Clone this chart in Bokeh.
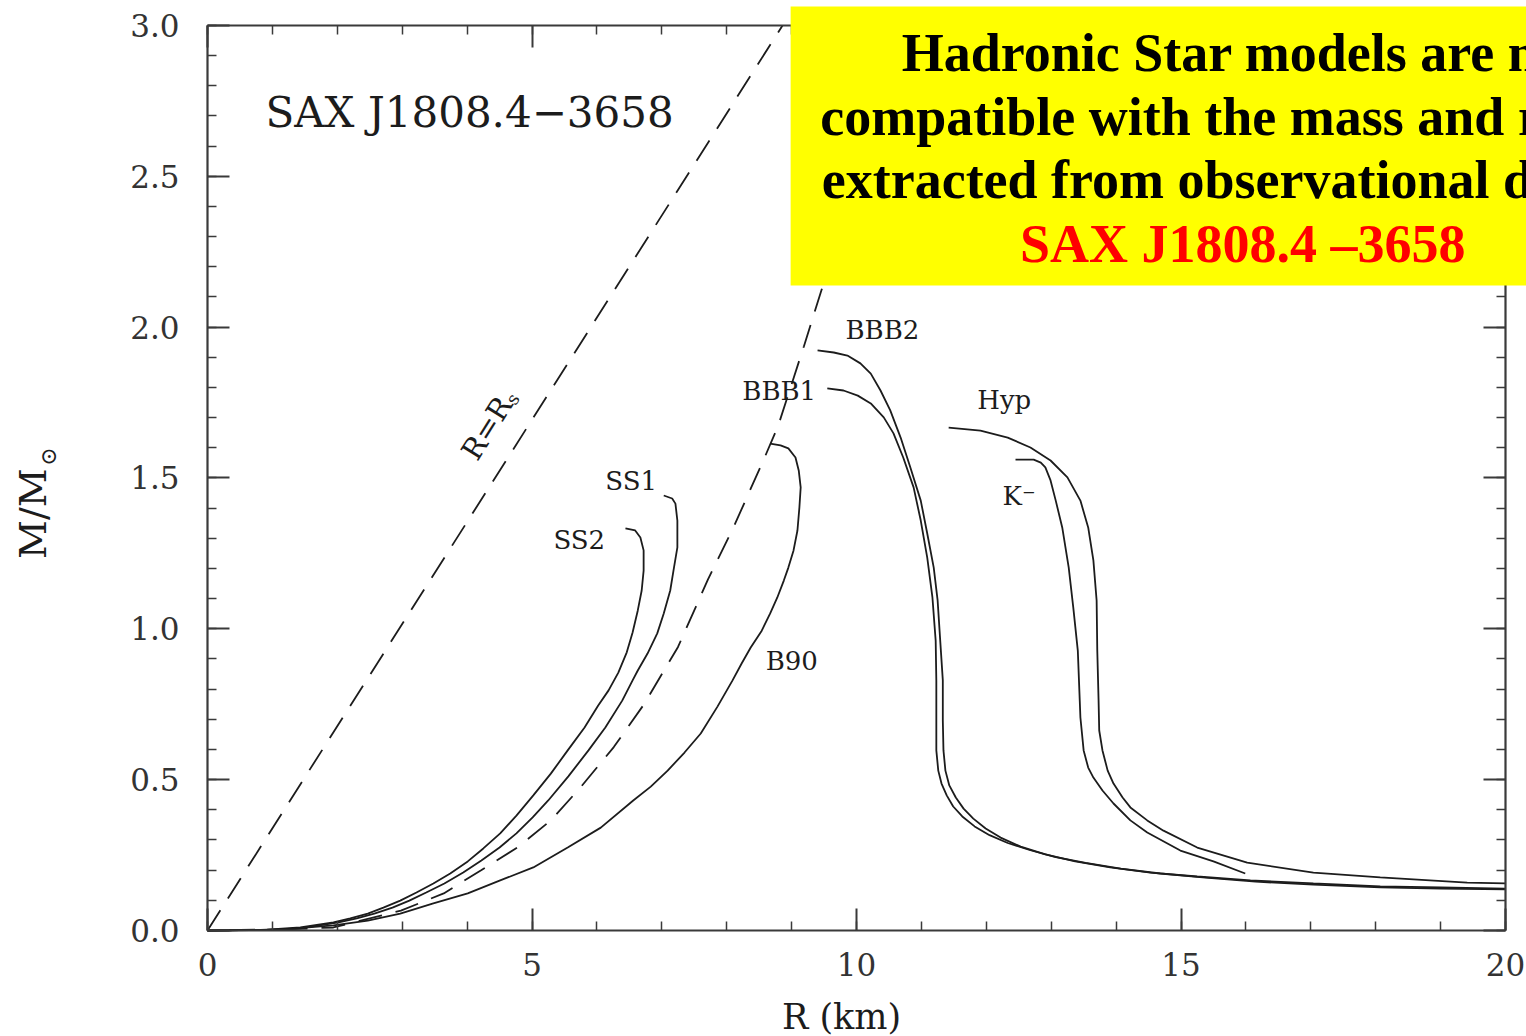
import math
from bokeh.plotting import figure
from bokeh.models import (Range1d, LinearAxis, Label, BoxAnnotation, FixedTicker,
                          NumeralTickFormatter, CustomJSTickFormatter)
from bokeh.embed import file_html
from bokeh.resources import INLINE

# ---------------- data ----------------
rs_R = [0.0, 8.86]
rs_M = [0.0, 3.0]

limit_R = [0.0, 1.0, 1.94, 2.98, 3.64, 4.21, 4.78, 5.29, 5.75, 6.26, 6.72, 7.25, 7.71, 8.11, 8.57, 8.79, 9.19, 9.45, 10.4]
limit_M = [0.0, 0.002, 0.010, 0.066, 0.123, 0.199, 0.276, 0.365, 0.475, 0.608, 0.748, 0.940, 1.163, 1.339, 1.561, 1.671, 1.937, 2.116, 2.75]

ss2_R = [6.44, 6.59, 6.67, 6.72, 6.72, 6.69, 6.63, 6.55, 6.46, 6.33, 6.18, 6.02, 5.81, 5.55, 5.29, 5.02,
         4.76, 4.51, 4.25, 4.01, 3.74, 3.48, 3.22, 2.97, 2.71, 2.47, 2.20, 1.94, 1.43, 0.92, 0.0]
ss2_M = [1.333, 1.326, 1.303, 1.260, 1.193, 1.127, 1.061, 0.988, 0.922, 0.855, 0.796, 0.746, 0.673, 0.597,
         0.520, 0.448, 0.381, 0.322, 0.272, 0.229, 0.189, 0.156, 0.126, 0.099, 0.076, 0.056, 0.040, 0.027,
         0.010, 0.003, 0.0]

ss1_R = [7.03, 7.16, 7.21, 7.24, 7.24, 7.18, 7.13, 7.03, 6.93, 6.78, 6.63, 6.55, 6.39, 6.13, 5.87, 5.56,
         5.25, 5.01, 4.76, 4.50, 4.22, 3.94, 3.65, 3.37, 3.11, 2.85, 2.57, 2.30, 2.02, 1.43, 0.66, 0.0]
ss1_M = [1.442, 1.432, 1.415, 1.359, 1.270, 1.193, 1.127, 1.051, 0.985, 0.918, 0.862, 0.829, 0.762, 0.673,
         0.597, 0.511, 0.431, 0.375, 0.322, 0.275, 0.232, 0.192, 0.156, 0.126, 0.099, 0.076, 0.056, 0.040,
         0.027, 0.007, 0.001, 0.0]

b90_R = [8.67, 8.83, 8.95, 9.06, 9.11, 9.14, 9.12, 9.09, 9.03, 8.95, 8.88, 8.78, 8.67, 8.54, 8.37, 8.23,
         8.09, 7.86, 7.60, 7.35, 7.09, 6.83, 6.56, 6.06, 5.55, 5.02, 4.51, 4.01, 3.48, 2.97, 2.47, 1.94,
         1.12, 0.0]
b90_M = [1.614, 1.608, 1.598, 1.568, 1.525, 1.469, 1.402, 1.326, 1.260, 1.203, 1.160, 1.104, 1.051, 0.994,
         0.938, 0.885, 0.829, 0.743, 0.653, 0.590, 0.530, 0.477, 0.431, 0.341, 0.275, 0.209, 0.166, 0.123,
         0.090, 0.056, 0.033, 0.017, 0.003, 0.0]

bbb2_R = [9.40, 9.65, 9.86, 10.06, 10.22, 10.37, 10.52, 10.68, 10.83, 10.99, 11.09, 11.19, 11.25, 11.29,
          11.33, 11.33, 11.34, 11.37, 11.43, 11.53, 11.65, 11.80, 11.99, 12.22, 12.53, 12.91, 13.37, 13.91,
          14.53, 15.25, 16.07, 17.04, 18.07, 19.00, 20.00]
bbb2_M = [1.923, 1.916, 1.906, 1.880, 1.846, 1.790, 1.724, 1.634, 1.535, 1.425, 1.316, 1.203, 1.094, 0.961,
          0.829, 0.696, 0.597, 0.530, 0.481, 0.441, 0.404, 0.371, 0.338, 0.308, 0.278, 0.252, 0.229, 0.209,
          0.192, 0.179, 0.166, 0.156, 0.146, 0.143, 0.139]

bbb1_R = [9.55, 9.80, 10.02, 10.22, 10.42, 10.57, 10.72, 10.88, 10.99, 11.09, 11.17, 11.22, 11.23, 11.23,
          11.23, 11.26, 11.31, 11.39, 11.49, 11.63, 11.82, 12.05, 12.33, 12.68, 13.07, 13.53, 14.07, 14.68,
          15.38, 16.15, 17.04, 18.07, 19.00, 20.00]
bbb1_M = [1.797, 1.790, 1.773, 1.747, 1.701, 1.648, 1.568, 1.469, 1.359, 1.236, 1.104, 0.961, 0.829, 0.696,
          0.597, 0.530, 0.487, 0.448, 0.411, 0.378, 0.345, 0.316, 0.290, 0.266, 0.243, 0.224, 0.205, 0.189,
          0.175, 0.162, 0.152, 0.143, 0.139, 0.136]

hyp_R = [11.42, 11.91, 12.33, 12.68, 12.99, 13.25, 13.45, 13.57, 13.65, 13.70, 13.71, 13.73, 13.74, 13.79,
         13.87, 13.96, 14.10, 14.22, 14.48, 14.73, 15.25, 16.02, 17.04, 18.07, 19.41, 20.00]
hyp_M = [1.667, 1.657, 1.634, 1.601, 1.558, 1.502, 1.425, 1.336, 1.227, 1.094, 0.928, 0.762, 0.663, 0.597,
         0.530, 0.487, 0.441, 0.408, 0.365, 0.331, 0.275, 0.225, 0.192, 0.176, 0.159, 0.156]

kminus_R = [12.45, 12.73, 12.84, 12.91, 12.99, 13.07, 13.17, 13.27, 13.34, 13.41, 13.44, 13.45, 13.50, 13.57,
            13.65, 13.79, 13.96, 14.22, 14.48, 14.99, 15.50, 15.99]
kminus_M = [1.561, 1.561, 1.551, 1.535, 1.492, 1.425, 1.336, 1.203, 1.071, 0.928, 0.762, 0.706, 0.597, 0.540,
            0.507, 0.464, 0.421, 0.365, 0.325, 0.265, 0.229, 0.189]

x_major = [0, 5, 10, 15, 20]
x_minor = list(range(0, 21))
y_major = [0.0, 0.5, 1.0, 1.5, 2.0, 2.5, 3.0]
y_minor = [round(i * 0.1, 1) for i in range(0, 31)]

box_lines = ["Hadronic Star models are not",
             "compatible with the mass and radius",
             "extracted from observational data of"]
box_red = "SAX J1808.4 \u20133658"

# ---------------- figure ----------------
INK = "#1c1c1c"
AX = "#3a3a3a"
SERIF = "DejaVu Serif"

W, H = 1526, 1036
PX_PER_R = 64.9
PX_PER_M = 301.67
X0_PX, Y0_PX = 207, 930

x_range = Range1d(-X0_PX / PX_PER_R, (W - X0_PX) / PX_PER_R)
y_range = Range1d(-(H - Y0_PX) / PX_PER_M, Y0_PX / PX_PER_M)

p = figure(width=W, height=H, output_backend="svg", toolbar_location=None,
           x_range=x_range, y_range=y_range,
           x_axis_location=None, y_axis_location=None,
           min_border=0, min_border_left=0, min_border_right=0,
           min_border_top=0, min_border_bottom=0,
           background_fill_color="white", border_fill_color="white")
p.xgrid.visible = False
p.ygrid.visible = False
p.outline_line_color = None


def make_axis(ticker, loc, bounds, show_labels, fmt=None):
    ax = LinearAxis(ticker=ticker, fixed_location=loc, bounds=bounds)
    ax.axis_line_width = 2.2
    ax.axis_line_color = AX
    ax.major_tick_in = 22
    ax.major_tick_out = 0
    ax.minor_tick_in = 9
    ax.minor_tick_out = 0
    ax.major_tick_line_width = 2
    ax.minor_tick_line_width = 1.5
    ax.major_tick_line_color = AX
    ax.minor_tick_line_color = AX
    if show_labels:
        ax.major_label_text_font = SERIF
        ax.major_label_text_font_size = "31px"
        ax.major_label_text_color = "#333333"
        if fmt is not None:
            ax.formatter = fmt
    else:
        ax.formatter = CustomJSTickFormatter(code="return '';")
        ax.major_label_text_font_size = "0px"
    return ax


bottom = make_axis(FixedTicker(ticks=x_major, minor_ticks=x_minor), 0.0, (0, 20), True)
bottom.major_label_standoff = 22
p.add_layout(bottom, "below")
left = make_axis(FixedTicker(ticks=y_major, minor_ticks=y_minor), 0.0, (0, 3), True,
                 NumeralTickFormatter(format="0.0"))
left.major_label_standoff = 28
p.add_layout(left, "left")
top = make_axis(FixedTicker(ticks=x_major, minor_ticks=x_minor), 3.0, (0, 20), False)
p.add_layout(top, "above")
right = make_axis(FixedTicker(ticks=y_major, minor_ticks=y_minor), 20.0, (0, 3), False)
p.add_layout(right, "right")

# ---------------- curves ----------------
LW = 1.8
p.line(rs_R, rs_M, line_color=INK, line_width=LW, line_dash="24 14")
p.line(limit_R, limit_M, line_color=INK, line_width=LW, line_dash="24 14")
for R, M in [(ss2_R, ss2_M), (ss1_R, ss1_M), (b90_R, b90_M), (bbb2_R, bbb2_M),
             (bbb1_R, bbb1_M), (hyp_R, hyp_M), (kminus_R, kminus_M)]:
    p.line(R, M, line_color=INK, line_width=LW)


# ---------------- labels ----------------
def lab(x, y, t, size="26px", **kw):
    p.add_layout(Label(x=x, y=y, text=t, text_font=SERIF, text_font_size=size,
                       text_color=INK, **kw))


lab(0.894, 2.63, "SAX J1808.4\u22123658", size="42px")
lab(6.13, 1.439, "SS1")
lab(5.33, 1.246, "SS2")
lab(9.83, 1.942, "BBB2")
lab(8.24, 1.737, "BBB1")
lab(11.86, 1.710, "Hyp")
lab(12.25, 1.389, "K\u207b")
lab(8.60, 0.842, "B90")

theta = math.atan2(900, 568)
lab(4.305, 1.665, "R=R", size="29px", angle=theta, text_align="center", text_baseline="middle")
lab(4.70, 1.762, "s", size="18px", angle=theta, text_align="center", text_baseline="middle")

# axis titles
lab(9.77, -0.288, "R (km)", size="35px", text_align="center", text_baseline="middle")
lab(-2.696, 1.382, "M/M", size="38px", angle=math.pi / 2, text_align="center",
    text_baseline="middle")
lab(-2.45, 1.571, "\u2299", size="22px", angle=math.pi / 2, text_align="center",
    text_baseline="middle")

# ---------------- yellow note box ----------------
box = BoxAnnotation(left=8.985, right=25, bottom=2.138, top=3.063,
                    fill_color="#ffff00", fill_alpha=1.0, line_color=None)
p.add_layout(box)

box_y = [2.811, 2.596, 2.387]
for t, yy in zip(box_lines, box_y):
    p.add_layout(Label(x=15.95, y=yy, text=t, text_font="Liberation Serif",
                       text_font_style="bold", text_font_size="54px", text_color="black",
                       text_align="center", text_baseline="bottom"))
p.add_layout(Label(x=15.95, y=2.175, text=box_red, text_font="Liberation Serif",
                   text_font_style="bold", text_font_size="54px", text_color="#ff0000",
                   text_align="center", text_baseline="bottom"))

open("out.html", "w").write(file_html(p, INLINE))
